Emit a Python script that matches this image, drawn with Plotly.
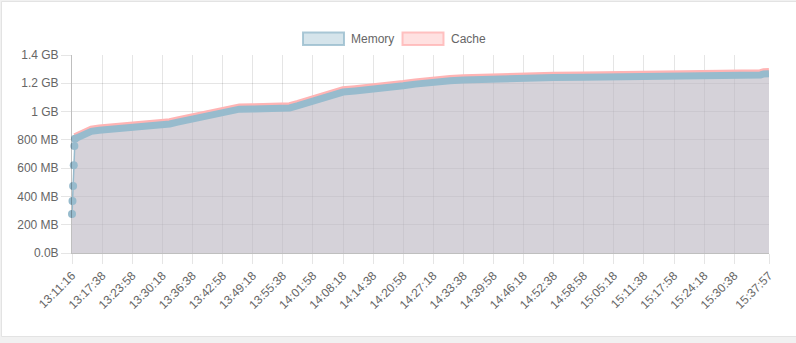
import plotly.graph_objects as go

# ---------------- data ----------------
times = [
    "13:11:16", "13:11:22", "13:11:30", "13:11:38", "13:11:46", "13:11:54",
    "13:12:40", "13:13:30", "13:14:20", "13:15:20", "13:17:00", "13:19:05",
    "13:21:10", "13:23:58", "13:26:00", "13:27:30", "13:28:40", "13:30:18",
    "13:31:50", "13:33:30", "13:36:00", "13:38:05", "13:40:50", "13:42:58",
    "13:45:00", "13:46:30", "13:49:18", "13:55:38", "13:57:05", "13:58:50",
    "14:00:20", "14:01:58", "14:03:25", "14:05:05", "14:06:50", "14:08:18",
    "14:10:50", "14:12:55", "14:14:38", "14:17:10", "14:19:15", "14:20:58",
    "14:23:30", "14:25:35", "14:27:18", "14:30:50", "14:33:38", "14:37:10",
    "14:39:58", "14:43:20", "14:46:18", "14:52:38", "14:58:58", "15:03:00",
    "15:04:30", "15:11:38", "15:17:58", "15:24:18", "15:30:38", "15:36:10",
    "15:36:50", "15:37:57",
]
memory_mb = [
    275, 367, 473, 621, 757, 808,
    818, 832, 848, 860, 868, 873,
    877, 882, 886, 892, 895, 904,
    912, 925, 944, 958, 984, 1000,
    1012, 1017, 1018, 1018, 1026, 1042,
    1058, 1074, 1094, 1112, 1127, 1138,
    1146, 1151, 1157, 1165, 1174, 1182,
    1194, 1204, 1211, 1218, 1223, 1228,
    1231, 1235, 1239, 1241, 1243, 1244,
    1254, 1255, 1256, 1257, 1258, 1259,
    1266, 1268,
]
cache_mb = [
    275, 367, 473, 621, 757, 822,
    834, 848, 864, 876, 884, 889,
    893, 898, 902, 908, 912, 920,
    928, 941, 960, 974, 1000, 1016,
    1028, 1033, 1034, 1034, 1042, 1058,
    1074, 1090, 1110, 1128, 1143, 1154,
    1162, 1167, 1173, 1181, 1190, 1198,
    1210, 1220, 1227, 1234, 1239, 1244,
    1247, 1251, 1255, 1257, 1259, 1260,
    1270, 1271, 1272, 1273, 1274, 1275,
    1282, 1284,
]
tick_times = [
    "13:11:16", "13:17:38", "13:23:58", "13:30:18", "13:36:38", "13:42:58",
    "13:49:18", "13:55:38", "14:01:58", "14:08:18", "14:14:38", "14:20:58",
    "14:27:18", "14:33:38", "14:39:58", "14:46:18", "14:52:38", "14:58:58",
    "15:05:18", "15:11:38", "15:17:58", "15:24:18", "15:30:38", "15:37:57",
]
y_ticks = [0, 200, 400, 600, 800, 1000, 1200, 1400]
y_tick_labels = ["0.0B", "200 MB", "400 MB", "600 MB", "800 MB", "1 GB", "1.2 GB", "1.4 GB"]
series_names = ["Memory", "Cache"]

# ---------------- styling ----------------
W, H = 796, 343
ML, MR, MT, MB = 72, 27, 55, 90
DAY = "2024-01-01 "
START = 5  # samples before the dense band begins

BLUE = "rgb(151,187,205)"
BLUE_FILL = "rgba(151,187,205,0.4)"
BLUE_BORDER = "rgba(151,187,205,0.8)"
PINK = "rgb(255,180,180)"
PINK_FILL = "rgba(255,180,180,0.4)"
PINK_BORDER = "rgba(255,180,180,0.8)"
GRID = "rgba(0,0,0,0.1)"
AXIS = "rgba(0,0,0,0.25)"
FONT = "Liberation Sans, Arial, sans-serif"

x = [DAY + t for t in times]


def pxx(p):
    return (p - ML) / (W - ML - MR)


def pxy(p):
    return (H - MB - p) / (H - MT - MB)


fig = go.Figure()
fig.add_trace(go.Scatter(x=x, y=cache_mb, mode="none", fill="tozeroy",
                         fillcolor=PINK_FILL, hoverinfo="skip", showlegend=False))
fig.add_trace(go.Scatter(x=x, y=memory_mb, mode="none", fill="tozeroy",
                         fillcolor=BLUE_FILL, hoverinfo="skip", showlegend=False))
fig.add_trace(go.Scatter(x=x[START:], y=cache_mb[START:], mode="lines",
                         line=dict(color=PINK, width=7), name=series_names[1],
                         showlegend=False))
fig.add_trace(go.Scatter(x=x[:START + 1], y=memory_mb[:START + 1], mode="lines+markers",
                         line=dict(color=BLUE, width=1.5),
                         marker=dict(color=BLUE, size=8), name=series_names[0],
                         cliponaxis=False, showlegend=False))
fig.add_trace(go.Scatter(x=x[START:], y=memory_mb[START:], mode="lines",
                         line=dict(color=BLUE, width=7), name=series_names[0],
                         showlegend=False))

shapes = [
    # card
    dict(type="rect", xref="paper", yref="paper", layer="below",
         x0=pxx(1.5), x1=pxx(805), y0=pxy(336.5), y1=pxy(1.5),
         fillcolor="white", line=dict(color="#e3e3e3", width=1)),
    # legend boxes
    dict(type="rect", xref="paper", yref="paper",
         x0=pxx(303), x1=pxx(344), y0=pxy(45), y1=pxy(32.5),
         fillcolor=BLUE_FILL, line=dict(color=BLUE_BORDER, width=2)),
    dict(type="rect", xref="paper", yref="paper",
         x0=pxx(402.5), x1=pxx(443.5), y0=pxy(45), y1=pxy(32.5),
         fillcolor=PINK_FILL, line=dict(color=PINK_BORDER, width=2)),
]
annotations = [
    dict(text=series_names[0], xref="paper", yref="paper", x=pxx(349), y=pxy(38.5),
         xanchor="left", yanchor="middle", showarrow=False,
         font=dict(family=FONT, size=12, color="#666")),
    dict(text=series_names[1], xref="paper", yref="paper", x=pxx(449), y=pxy(38.5),
         xanchor="left", yanchor="middle", showarrow=False,
         font=dict(family=FONT, size=12, color="#666")),
]

fig.update_layout(
    width=W, height=H,
    margin=dict(l=ML, r=MR, t=MT, b=MB, pad=0),
    paper_bgcolor="#f1f1f1",
    plot_bgcolor="rgba(0,0,0,0)",
    font=dict(family=FONT, size=12, color="#666"),
    showlegend=False,
    hovermode=False,
    shapes=shapes,
    annotations=annotations,
    xaxis=dict(
        type="date",
        range=[x[0], x[-1]],
        tickmode="array",
        tickvals=[DAY + t for t in tick_times],
        ticktext=tick_times,
        tickangle=-45,
        showgrid=True, gridcolor=GRID, gridwidth=1,
        ticks="outside", ticklen=10, tickcolor=GRID,
        showline=True, linecolor=AXIS, linewidth=1,
        zeroline=False,
        tickfont=dict(family=FONT, size=12, color="#666"),
    ),
    yaxis=dict(
        range=[0, 1400],
        tickmode="array",
        tickvals=y_ticks,
        ticktext=y_tick_labels,
        showgrid=True, gridcolor=GRID, gridwidth=1,
        ticks="outside", ticklen=10, tickcolor=GRID,
        showline=True, linecolor=AXIS, linewidth=1,
        zeroline=False,
        tickfont=dict(family=FONT, size=12, color="#666"),
    ),
)

fig.write_html("out.html", config={"displayModeBar": False})
